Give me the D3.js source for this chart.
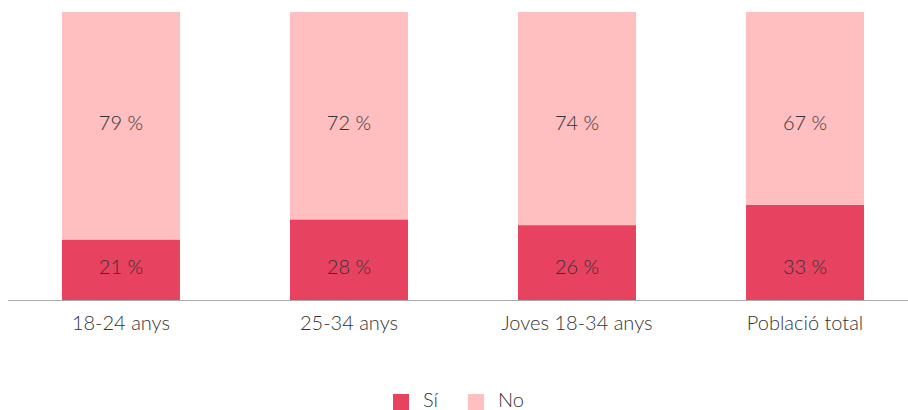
<!DOCTYPE html>
<html>
<head>
<meta charset="utf-8">
<script src="https://cdn.jsdelivr.net/npm/d3@7.9.0/dist/d3.min.js"></script>
<style>
  body { margin: 0; background: #fff; }
  svg { display: block; font-family: Lato, "Open Sans", sans-serif; font-weight: 300; }
</style>
</head>
<body>
<svg id="chart" width="908" height="410"></svg>
<script>
const categories = ['18-24 anys', '25-34 anys', 'Joves 18-34 anys', 'Població total'];
const siValues = [21, 28, 26, 33];
const noValues = [79, 72, 74, 67];
const seriesNames = ['Sí', 'No'];
const colors = ['#e84261', '#ffbec0'];
// labels sit at the same height in every bar (value on the y scale)
const labelLevels = [11.5, 61.5];

const svg = d3.select('#chart');

const x = d3.scaleBand()
    .domain(categories)
    .range([7, 919])
    .paddingInner(0.4825)
    .paddingOuter(0.241);

const y = d3.scaleLinear()
    .domain([0, 100])
    .range([300, 12]);

const data = categories.map((c, i) => ({ cat: c, 'Sí': siValues[i], 'No': noValues[i] }));
const stacked = d3.stack().keys(seriesNames)(data);

const groups = svg.selectAll('g.series')
    .data(stacked)
    .join('g')
    .attr('class', 'series')
    .attr('fill', (d, i) => colors[i]);

groups.selectAll('rect')
    .data(d => d)
    .join('rect')
    .attr('x', d => x(d.data.cat))
    .attr('width', x.bandwidth())
    .attr('y', d => y(d[1]))
    .attr('height', d => y(d[0]) - y(d[1]));

// value labels
stacked.forEach((s, si) => {
    svg.append('g').selectAll('text')
        .data(s)
        .join('text')
        .attr('x', d => x(d.data.cat) + x.bandwidth() / 2)
        .attr('y', y(labelLevels[si]))
        .attr('dy', '0.35em')
        .attr('text-anchor', 'middle')
        .attr('fill', '#333')
        .style('font-size', '20px')
        .text(d => `${d[1] - d[0]} %`);
});

// axis
const axis = svg.append('g')
    .attr('transform', 'translate(0,300)')
    .call(d3.axisBottom(x).tickSize(0).tickPadding(16));
axis.select('.domain').attr('d', 'M8,0.5H908').attr('stroke', '#aaa');
axis.selectAll('text')
    .attr('fill', '#333')
    .style('font-size', '20px')
    .style('font-weight', '300')
    .style('font-family', 'Lato, "Open Sans", sans-serif');

// legend
const legendX = [393, 468];
const legend = svg.append('g');
seriesNames.forEach((name, i) => {
    legend.append('rect')
        .attr('x', legendX[i])
        .attr('y', 394)
        .attr('width', 16)
        .attr('height', 16)
        .attr('fill', colors[i]);
    legend.append('text')
        .attr('x', legendX[i] + 30)
        .attr('y', 400)
        .attr('dy', '0.35em')
        .attr('fill', '#333')
        .style('font-size', '20px')
        .text(name);
});
</script>
</body>
</html>
